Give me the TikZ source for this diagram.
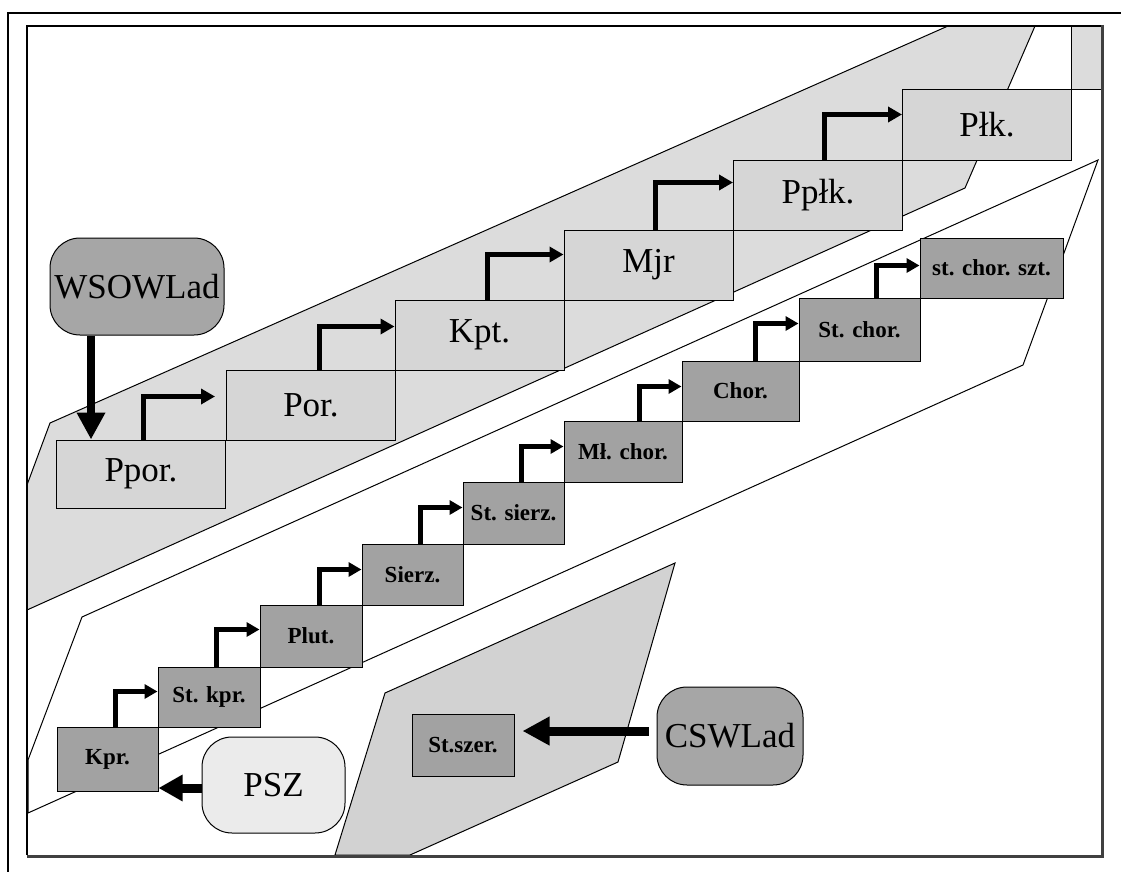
\documentclass[tikz,border=0pt]{standalone}
\usepackage{fontspec}
\setmainfont{Liberation Serif}
\usetikzlibrary{arrows.meta}
\definecolor{offband}{HTML}{DCDCDC}
\definecolor{offbox}{HTML}{D6D6D6}
\definecolor{ncobox}{HTML}{A2A2A2}
\definecolor{lowband}{HTML}{D2D2D2}
\definecolor{termdark}{HTML}{A6A6A6}
\definecolor{termlight}{HTML}{EBEBEB}
\begin{document}
\begin{tikzpicture}[x=1pt,y=-1pt,
  obox/.style={draw=black, line width=1pt, fill=offbox, minimum width=169pt, minimum height=70pt, inner sep=0pt, font=\fontsize{35}{40}\selectfont},
  nbox/.style={draw=black, line width=1pt, fill=ncobox, inner sep=0pt, font=\bfseries\fontsize{23}{26}\selectfont},
  term/.style={draw=black, line width=1pt, rounded corners=30pt, inner sep=0pt, font=\fontsize{35}{40}\selectfont},
  oarr/.style={line width=5pt, -{Triangle[length=14pt,width=15pt]}},
  narr/.style={line width=4.5pt, -{Triangle[length=13pt,width=14pt]}},
  bigarr/.style={line width=9pt, -{Triangle[length=27pt,width=27pt]}},
  band/.style={draw=black, line width=1pt}
]
\useasboundingbox (0,0) rectangle (1121,872);
\fill[white] (0,0) rectangle (1121,872);

% bands
\filldraw[band, fill=offband] (27,485) -- (50,423) -- (948,26) -- (1035,26) -- (965,188) -- (27,610) -- cycle;
\filldraw[band, fill=white] (28,760) -- (82,617) -- (1098,160) -- (1023,365) -- (28,813) -- cycle;
\filldraw[band, fill=lowband] (335,855) -- (385,693) -- (675,563) -- (618,762) -- (410,855) -- cycle;
\filldraw[band, fill=offband] (1071,26) rectangle (1102,90);

% officer boxes
\node[obox, minimum height=68pt] (ppor) at (141,474) {Ppor.};
\node[obox] (por)  at (311,405) {Por.};
\node[obox] (kpt)  at (479.5,335) {Kpt.};
\node[obox] (mjr)  at (648.5,265) {Mjr};
\node[obox] (pplk) at (818,195) {Ppłk.};
\node[obox] (plk)  at (987,125) {Płk.};

% officer arrows
\draw[oarr, shorten >=11pt] ([xshift=87pt]ppor.north west) |- ([yshift=-27pt]por.north west);
\draw[oarr] ([xshift=93pt]por.north west) |- ([yshift=-27pt]kpt.north west);
\draw[oarr] ([xshift=93pt]kpt.north west) |- ([yshift=-25pt]mjr.north west);
\draw[oarr] ([xshift=92pt]mjr.north west) |- ([yshift=-23pt]pplk.north west);
\draw[oarr] ([xshift=91pt]pplk.north west) |- ([yshift=-25pt]plk.north west);

% NCO boxes
\node[nbox, minimum width=101pt, minimum height=64pt] (kpr) at (107.5,759) {Kpr.};
\node[nbox, minimum width=102pt, minimum height=60pt] (stkpr) at (209,697) {St. kpr.};
\node[nbox, minimum width=102pt, minimum height=62pt] (plut) at (311,636) {Plut.};
\node[nbox, minimum width=101pt, minimum height=61pt] (sierz) at (412.5,574.5) {Sierz.};
\node[nbox, minimum width=101pt, minimum height=62pt] (stsierz) at (513.5,513) {St. sierz.};
\node[nbox, minimum width=118pt, minimum height=61pt] (mlchor) at (623,451.5) {Mł. chor.};
\node[nbox, minimum width=117pt, minimum height=60pt] (chor) at (740.5,391) {Chor.};
\node[nbox, minimum width=121pt, minimum height=63pt] (stchor) at (859.5,329.5) {St. chor.};
\node[nbox, minimum width=143pt, minimum height=60pt] (szt) at (991.5,268) {st. chor. szt.};
\node[nbox, minimum width=102pt, minimum height=62pt] (stszer) at (463,745) {St.szer.};

% NCO arrows
\draw[narr] ([xshift=59pt]kpr.north west) |- ([yshift=-25pt]stkpr.north west);
\draw[narr] ([xshift=59pt]stkpr.north west) |- ([yshift=-25pt]plut.north west);
\draw[narr] ([xshift=60pt]plut.north west) |- ([yshift=-26pt]sierz.north west);
\draw[narr] ([xshift=59pt]sierz.north west) |- ([yshift=-26pt]stsierz.north west);
\draw[narr] ([xshift=59pt]stsierz.north west) |- ([yshift=-26pt]mlchor.north west);
\draw[narr] ([xshift=76pt]mlchor.north west) |- ([yshift=-26pt]chor.north west);
\draw[narr] ([xshift=74pt]chor.north west) |- ([yshift=-26pt]stchor.north west);
\draw[narr] ([xshift=78pt]stchor.north west) |- ([yshift=-28pt]szt.north west);

% terminals
\node[term, fill=termdark, minimum width=174pt, minimum height=97pt] (wsow) at (137,286.5) {WSOWLad};
\node[term, fill=termlight, minimum width=143pt, minimum height=96pt] (psz) at (273.5,785) {PSZ};
\node[term, fill=termdark, minimum width=146pt, minimum height=98pt] (csw) at (730,736) {CSWLad};

% big arrows
\draw[bigarr, line width=8pt] ([xshift=-46pt]wsow.south) -- ([xshift=-46pt]wsow.south |- ppor.north);
\draw[bigarr, -{Triangle[length=24pt,width=25pt]}] ([yshift=-3pt]psz.west) -- ([yshift=-3pt]psz.west -| kpr.east);
\draw[bigarr, shorten <=8pt, shorten >=8pt] ([yshift=5pt]csw.west) -- ([yshift=5pt]csw.west -| stszer.east);

% frames
\draw[line width=1.5pt] (8,872) -- (8,13) -- (1121,13);
\draw[line width=1.5pt] (27,855) -- (27,26) -- (1102,26);
\draw[line width=3pt, black!75] (1102,25) -- (1102,856) -- (27,856);
\end{tikzpicture}
\end{document}
